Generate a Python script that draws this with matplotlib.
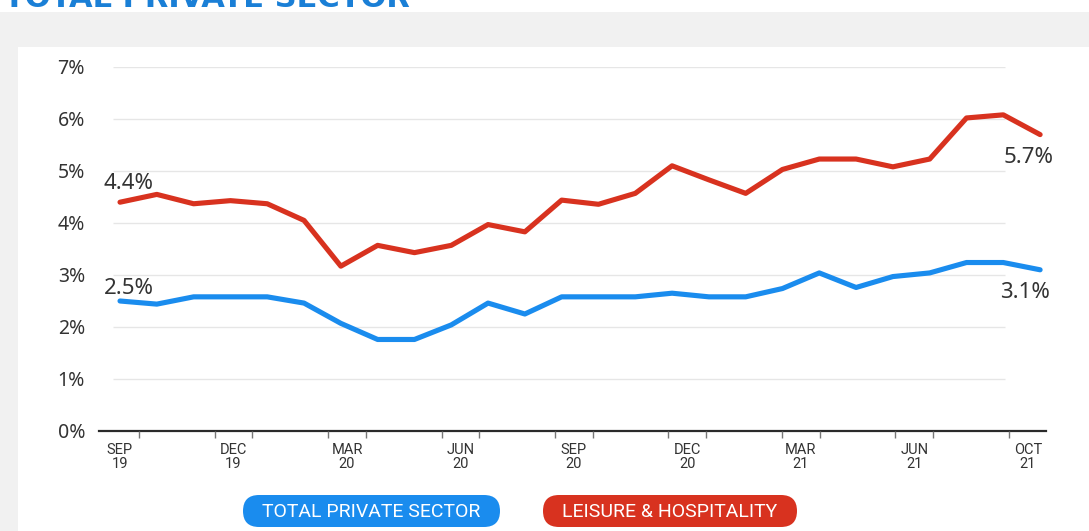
import matplotlib
matplotlib.use("Agg")
import matplotlib.pyplot as plt
from matplotlib.patches import Rectangle, FancyBboxPatch
import numpy as np

# monthly job openings rate, Sep 2019 - Oct 2021 (%)
leisure = [4.4, 4.55, 4.37, 4.43, 4.37, 4.05, 3.17, 3.57, 3.43, 3.57, 3.97, 3.83, 4.44,
           4.36, 4.57, 5.10, 4.83, 4.57, 5.03, 5.23, 5.23, 5.08, 5.23, 6.02, 6.08, 5.7]
private = [2.5, 2.44, 2.58, 2.58, 2.58, 2.46, 2.07, 1.76, 1.76, 2.04, 2.46, 2.25, 2.58,
           2.58, 2.58, 2.65, 2.58, 2.58, 2.74, 3.04, 2.76, 2.97, 3.04, 3.24, 3.24, 3.1]
quarter_labels = ["SEP\n19", "DEC\n19", "MAR\n20", "JUN\n20", "SEP\n20",
                  "DEC\n20", "MAR\n21", "JUN\n21", "OCT\n21"]
y_ticks = [0, 1, 2, 3, 4, 5, 6, 7]

RED = "#d8321f"
BLUE = "#1a8cee"
TXT = "#333333"
NARROW = "Roboto"

plt.rcParams["font.family"] = ["Noto Sans", "DejaVu Sans"]

W, H = 1089, 531
fig = plt.figure(figsize=(W / 100, H / 100), dpi=100)
fig.patch.set_facecolor("#f1f1f1")

# background layer in pixel units (y measured up from the bottom)
bg = fig.add_axes([0, 0, 1, 1], zorder=0)
bg.set_xlim(0, W)
bg.set_ylim(0, H)
bg.axis("off")
bg.add_patch(Rectangle((0, H - 12), W, 12, color="white", lw=0))
bg.add_patch(Rectangle((18, 0), W - 18, H - 47, color="white", lw=0))
bg.text(4, H - 7, "TOTAL PRIVATE SECTOR", color="#1a7fd6", fontsize=22,
        fontweight="bold", family="DejaVu Sans", va="baseline", ha="left")

# legend pills
for x0, w, label, col in [(243, 257, "TOTAL PRIVATE SECTOR", BLUE),
                          (543, 254, "LEISURE & HOSPITALITY", RED)]:
    bg.add_patch(FancyBboxPatch((x0, 4), w, 32,
                                boxstyle="round,pad=0,rounding_size=16",
                                fc=col, ec="none"))
    bg.text(x0 + w / 2, 19, label, color="white", fontsize=14, family=NARROW,
            ha="center", va="center")

ax = fig.add_axes([99 / W, 1 - 431 / H, 947 / W, 364 / H], zorder=2)
ax.set_facecolor("none")
x = np.arange(len(leisure))
ax.set_xlim(-0.571, 25.16)
ax.set_ylim(0, 7)

ax.hlines(y_ticks[1:], -0.19, 24.05, color="#e6e6e6", lw=1, zorder=1)
ax.plot(x, leisure, color=RED, lw=3.7, solid_capstyle="round", solid_joinstyle="round", zorder=3)
ax.plot(x, private, color=BLUE, lw=3.7, solid_capstyle="round", solid_joinstyle="round", zorder=3)

for s in ["top", "right", "left"]:
    ax.spines[s].set_visible(False)
ax.spines["bottom"].set_color("#2a2a2a")
ax.spines["bottom"].set_linewidth(1.6)

ax.set_yticks(y_ticks)
ax.set_yticklabels([f"{v}%" for v in y_ticks], fontsize=14, color=TXT)
ax.tick_params(axis="y", length=0, pad=10)
ax.set_xticks([])

# quarter labels sit on their own category scale
lab = ax.twiny()
lab.set_xlim(-0.555, 24.48)
lab.xaxis.set_ticks_position("bottom")
lab.xaxis.set_label_position("bottom")
for s in lab.spines.values():
    s.set_visible(False)
q_pos = np.arange(len(quarter_labels)) * 3
lab.set_xticks(q_pos)
lab.set_xticklabels(quarter_labels, fontsize=10.5, color=TXT, family=NARROW,
                    linespacing=0.95)
lab.tick_params(axis="x", which="major", length=0, pad=9)
minor = sorted(set(np.concatenate([q_pos - 0.5, q_pos + 0.5])) - {-0.5, 24.5})
lab.set_xticks(minor, minor=True)
lab.tick_params(axis="x", which="minor", length=5, width=1, color="#777777")

# end-point value labels
for xi, yi, dx, dy, ha in [(0, leisure[0], -17, 19, "left"),
                           (0, private[0], -16, 12, "left"),
                           (25, leisure[-1], 13, -23, "right"),
                           (25, private[-1], 10, -23, "right")]:
    ax.annotate(f"{yi}%", (xi, yi), xytext=(dx, dy), textcoords="offset pixels",
                ha=ha, va="center", fontsize=16, color=TXT, zorder=4)

plt.savefig("out.png", dpi=100, facecolor=fig.get_facecolor())
